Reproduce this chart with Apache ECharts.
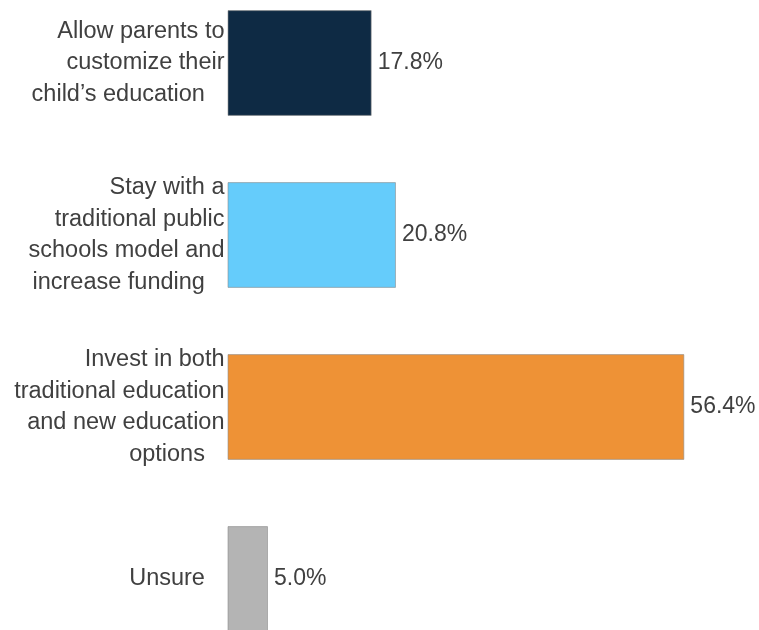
<!DOCTYPE html>
<html>
<head>
<meta charset="utf-8">
<script src="https://cdn.jsdelivr.net/npm/echarts@6/dist/echarts.min.js"></script>
<style>html,body{margin:0;padding:0;background:#fff;}#c{width:759px;height:630px;}</style>
</head>
<body>
<div id="c"></div>
<script>
var categories = [
  "Allow parents to\ncustomize their\nchild\u2019s education   ",
  "Stay with a\ntraditional public\nschools model and\nincrease funding   ",
  "Invest in both\ntraditional education\nand new education\noptions   ",
  "Unsure   "
];
var values = [17.8, 20.8, 56.4, 5.0];
var barColors = ["#0E2A44", "#65CCFB", "#EE9236", "#B4B4B4"];

var chart = echarts.init(document.getElementById('c'), null, {renderer: 'canvas'});
chart.setOption({
  animation: false,
  backgroundColor: '#fff',
  grid: {left: 227.5, top: -23, height: 688, width: 486, containLabel: false, outerBoundsMode: 'none'},
  xAxis: {type: 'value', min: 0, max: 60, show: false},
  yAxis: {
    type: 'category', data: categories, inverse: true,
    axisLine: {show: false}, axisTick: {show: false},
    axisLabel: {
      margin: 3, color: '#404040', fontSize: 23.5, lineHeight: 31.5,
      padding: [5, 0, 0, 0],
      fontFamily: 'Liberation Sans, Arial, sans-serif', align: 'right'
    }
  },
  series: [{
    type: 'bar',
    barCategoryGap: '38.5%',
    data: values.map(function (v, i) {
      return {value: v, itemStyle: {color: barColors[i]}};
    }),
    itemStyle: {borderColor: 'rgba(140,140,140,0.6)', borderWidth: 1},
    label: {
      show: true, position: 'right', distance: 6,
      color: '#404040', fontSize: 23,
      fontFamily: 'Liberation Sans, Arial, sans-serif',
      formatter: function (p) { return p.value.toFixed(1) + '%'; }
    }
  }]
});
</script>
</body>
</html>
